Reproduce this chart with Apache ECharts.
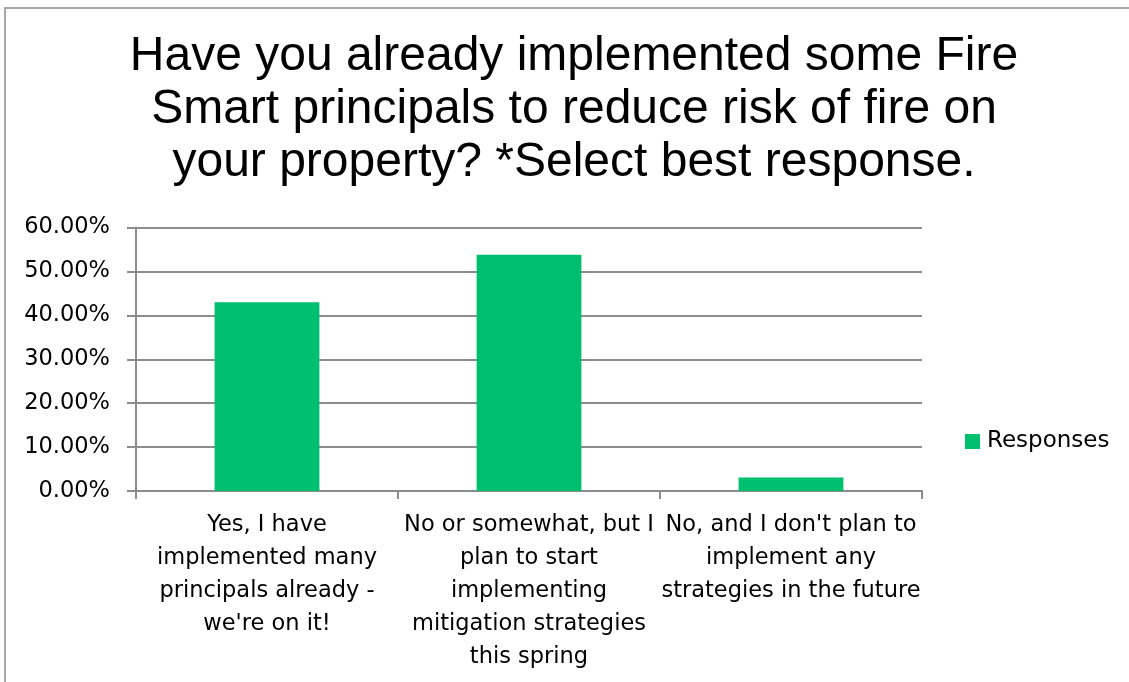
<!DOCTYPE html>
<html>
<head>
<meta charset="utf-8">
<script src="https://cdn.jsdelivr.net/npm/echarts@6/dist/echarts.min.js"></script>
<style>
html,body{margin:0;padding:0;background:#fff;}
#chart{width:1129px;height:682px;}
</style>
</head>
<body>
<div id="chart"></div>
<script>
const titleText = "Have you already implemented some Fire\nSmart principals to reduce risk of fire on\nyour property? *Select best response.";
const categories = [
  "Yes, I have\nimplemented many\nprincipals already -\nwe're on it!",
  "No or somewhat, but I\nplan to start\nimplementing\nmitigation strategies\nthis spring",
  "No, and I don't plan to\nimplement any\nstrategies in the future"
];
const seriesName = "Responses";
const responses = [42.98, 53.78, 3.08];
const yTicks = { min: 0, max: 60, interval: 10 };

const chart = echarts.init(document.getElementById('chart'), null, { renderer: 'canvas' });
const font = "'Liberation Sans', Arial, sans-serif";
const numFont = "'DejaVu Sans', sans-serif";
chart.setOption({
  backgroundColor: '#fff',
  animation: false,
  graphic: [{
    type: 'rect',
    shape: { x: 5, y: 8, width: 1300, height: 900 },
    style: { fill: 'none', stroke: '#a8a8a8', lineWidth: 2 },
    z: -1
  }],
  title: {
    text: titleText,
    left: 574,
    top: 30,
    textAlign: 'center',
    padding: 0,
    textStyle: { fontFamily: font, fontSize: 48, fontWeight: 'normal', color: '#000', lineHeight: 53 }
  },
  legend: {
    data: [seriesName],
    left: 965,
    top: 430,
    icon: 'rect',
    itemWidth: 15,
    itemHeight: 15,
    itemGap: 0,
    padding: 0,
    textStyle: { fontFamily: numFont, fontSize: 23, color: '#000', padding: [0, 0, 0, 2] }
  },
  grid: { left: 136, right: 207, top: 227.5, bottom: 191, containLabel: false },
  xAxis: {
    type: 'category',
    data: categories,
    axisLine: { lineStyle: { color: '#8c8c8c', width: 2 } },
    axisTick: { show: true, length: 8, lineStyle: { color: '#8c8c8c', width: 2 } },
    axisLabel: {
      interval: 0,
      margin: 17.5,
      fontFamily: numFont,
      fontSize: 22.5,
      lineHeight: 33,
      color: '#000',
      align: 'center'
    }
  },
  yAxis: {
    type: 'value',
    min: yTicks.min,
    max: yTicks.max,
    interval: yTicks.interval,
    axisLine: { show: true, lineStyle: { color: '#8c8c8c', width: 2 } },
    axisTick: { show: true, length: 9, lineStyle: { color: '#8c8c8c', width: 2 } },
    splitLine: { show: true, lineStyle: { color: '#8c8c8c', width: 2 } },
    axisLabel: {
      margin: 26,
      fontFamily: numFont,
      fontSize: 22.5,
      color: '#000',
      formatter: v => v.toFixed(2) + '%'
    }
  },
  series: [{
    name: seriesName,
    type: 'bar',
    data: responses,
    barWidth: '40%',
    itemStyle: { color: '#00BF6F' }
  }]
});
</script>
</body>
</html>
